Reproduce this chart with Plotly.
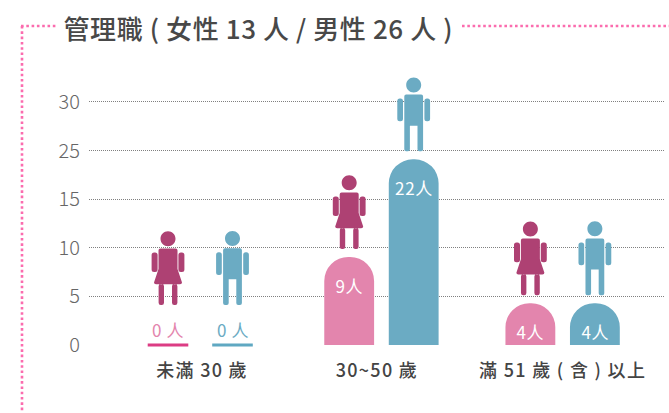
import re
import plotly.graph_objects as go

FONT = "Noto Sans CJK TC"
title_text = "管理職 ( 女性 13 人 / 男性 26 人 )"
categories = ["未滿 30 歲", "30~50 歲", "滿 51 歲 ( 含 ) 以上"]
women_counts = [0, 9, 4]
men_counts = [0, 22, 4]
# bar tops as read against the chart's evenly spaced gridlines
women_heights = [0, 9.05, 4.3]
men_heights = [0, 19.1, 4.3]
grid_positions = [0, 5, 10, 15, 20, 25]
grid_labels = ["0", "5", "10", "15", "25", "30"]

PINK, BLUE, WOMAN, DOT = "#e385ad", "#6babc3", "#ae4173", "#fb6cae"
PINK_BASE, BLUE_BASE = "#dc3c84", "#5fa8c2"
OFFSET, BAR_W = 0.178, 0.275
W, H, L, R, T, B = 669, 413, 89, 4, 60, 68


def rrect(x0, x1, y0, y1, r):
    return (f"M{x0+r},{y0} L{x1-r},{y0} Q{x1},{y0} {x1},{y0+r} L{x1},{y1-r} Q{x1},{y1} {x1-r},{y1} "
            f"L{x0+r},{y1} Q{x0},{y1} {x0},{y1-r} L{x0},{y0+r} Q{x0},{y0} {x0+r},{y0} Z ")


def head(cy, r):
    k = r * 0.5523
    return (f"M{-r},{cy} C{-r},{cy+k} {-k},{cy+r} 0,{cy+r} C{k},{cy+r} {r},{cy+k} {r},{cy} "
            f"C{r},{cy-k} {k},{cy-r} 0,{cy-r} C{-k},{cy-r} {-r},{cy-k} {-r},{cy} Z ")


def lifted(path, lift):
    return re.sub(r"(-?[\d.]+),(-?[\d.]+)", lambda m: f"{m.group(1)},{float(m.group(2)) + lift}", path)


def paper_x(px):
    return (px - L) / (W - L - R)


def paper_y(py):
    return (H - B - py) / (H - T - B)


MAN = (head(66.4, 7.5) + rrect(10.7, 16.4, 30, 52.8, 2.5) + rrect(-16.4, -10.7, 30, 52.8, 2.5)
       + "M-7.5,56.8 L7.5,56.8 Q9.4,56.8 9.4,54.8 L9.4,2 Q9.4,0 7.5,0 L5.7,0 Q3.8,0 3.8,2 L3.8,25.7 "
         "L-3.8,25.7 L-3.8,2 Q-3.8,0 -5.7,0 L-7.5,0 Q-9.4,0 -9.4,2 L-9.4,54.8 Q-9.4,56.8 -7.5,56.8 Z")
WOMAN_PATH = (head(66.2, 7.5) + rrect(10.4, 16.4, 33, 52.6, 2.5) + rrect(-16.4, -10.4, 33, 52.6, 2.5)
              + "M-7.6,56.6 L7.6,56.6 Q9.5,56.6 9.5,54.6 L9.5,36 L14,22.5 Q14,20.8 12,20.8 L-12,20.8 "
                "Q-14,20.8 -14,22.5 L-9.5,36 L-9.5,54.6 Q-9.5,56.6 -7.6,56.6 Z "
              + rrect(4, 9.4, 0, 21, 2.2) + rrect(-9.4, -4, 0, 21, 2.2))

xs = list(range(len(categories)))
label_xs = [0.01, 0.975, 2.0]
fig = go.Figure()
series = [("女性", women_counts, women_heights, -OFFSET, PINK, PINK_BASE, WOMAN, WOMAN_PATH),
          ("男性", men_counts, men_heights, OFFSET, BLUE, BLUE_BASE, BLUE, MAN)]
shapes, annotations = [], []
for name, counts, heights, off, color, base, icon, path in series:
    px = [x + off for x in xs]
    fig.add_bar(x=px, y=heights, width=BAR_W, marker=dict(color=color, line_width=0), name=name, showlegend=False)
    zx = [p for p, c in zip(px, counts) if c == 0]
    fig.add_scatter(x=zx, y=[0] * len(zx), mode="markers", showlegend=False, cliponaxis=False,
                    marker=dict(symbol="line-ew", size=29, line=dict(width=3, color=base)))
    for p, c, h in zip(px, counts, heights):
        shapes.append(dict(type="path", xref="x", yref="y", xsizemode="pixel", ysizemode="pixel",
                           xanchor=p, yanchor=h, fillcolor=icon, line_width=0, layer="above",
                           path=lifted(path, 40 if c == 0 else 8)))
        annotations.append(dict(x=p, y=h, xref="x", yref="y", showarrow=False,
                                text="0 人" if c == 0 else f"{c}人",
                                yshift=16 if c == 0 else -28,
                                font=dict(family=FONT, size=17, weight=400,
                                          color=color if c == 0 else "white")))

annotations.append(dict(xref="paper", yref="paper", x=paper_x(68.5), y=paper_y(27), xanchor="left", yanchor="middle",
                        showarrow=False, text=title_text, font=dict(family=FONT, size=26, color="#484848", weight=500)))

for x0, y0, x1, y1 in [(21, 26, 57, 26), (462, 26, 669, 26), (22, 26, 22, 413)]:
    shapes.append(dict(type="line", xref="paper", yref="paper", x0=paper_x(x0), x1=paper_x(x1),
                       y0=paper_y(y0), y1=paper_y(y1), line=dict(color=DOT, width=2.6, dash="2.6px,2.7px")))

fig.update_layout(
    width=W, height=H, autosize=False, showlegend=False, plot_bgcolor="white", paper_bgcolor="white",
    margin=dict(l=L, r=R, t=T, b=B), barcornerradius=25, barmode="overlay",
    shapes=shapes, annotations=annotations,
    xaxis=dict(range=[-0.614, 2.565], tickvals=label_xs, ticktext=categories, showgrid=False, zeroline=False,
               showline=False, ticks="", ticklabelstandoff=13,
               tickfont=dict(family=FONT, size=18, color="#444444", weight=500)),
    yaxis=dict(range=[0, 29.32], tickvals=grid_positions, ticktext=grid_labels, showgrid=True,
               gridcolor="#808080", griddash="1px,1px", gridwidth=1, zeroline=False, showline=False, ticks="",
               ticklabelstandoff=8, tickfont=dict(family=FONT, size=20, color="#666666", weight=300)),
)
css = ".xtick text{letter-spacing:1.3px}.annotation text{letter-spacing:0.6px}"
post = ("document.body.style.margin='0';var s=document.createElement('style');"
        f"s.textContent=\"{css}\";document.head.appendChild(s);")
fig.write_html("out.html", post_script=post, config={"displayModeBar": False})
